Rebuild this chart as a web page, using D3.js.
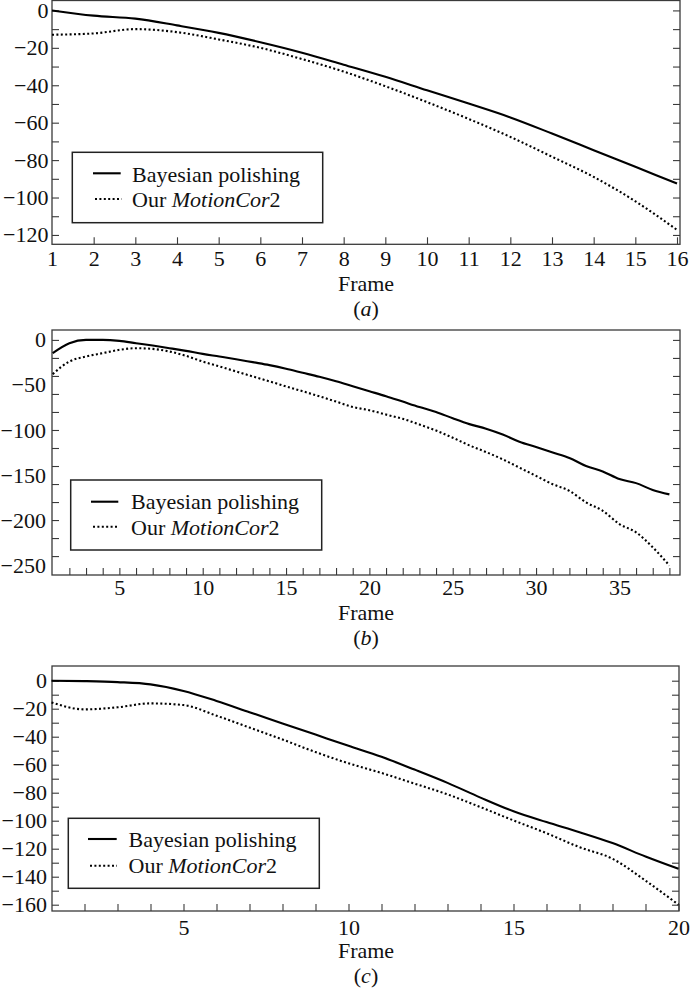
<!DOCTYPE html>
<html><head><meta charset="utf-8">
<script src="https://cdn.jsdelivr.net/npm/d3@7"></script>
<style>
html,body{margin:0;padding:0;background:#fff;}
svg{display:block;font-family:"Liberation Serif","Times New Roman",serif;}
</style></head>
<body>
<svg id="chart" width="691" height="992"></svg>
<script>
// ---------- DATA ----------
const seriesNames = ["Bayesian polishing", "Our MotionCor2"];
const panelLabels = ["a", "b", "c"];
const xAxisTitle = "Frame";

// Panel (a): frames 1..16
const framesA = d3.range(1, 17);
const bayesA  = [0, -2.8, -4.4, -8, -12, -17, -22.6, -29, -35.5, -42.7, -49.8, -57.2, -65.8, -74.7, -83.6, -92.5];
const motionA = [-13, -12.3, -10, -11.6, -15.5, -20, -26, -32.7, -40.5, -49, -58, -67.6, -78.2, -89, -102, -117.3];
const xTickLabelsA = d3.range(1, 17);
const yTickLabelsA = [0, -20, -40, -60, -80, -100, -120];

// Panel (b): frames 1..38
const framesB = d3.range(1, 39);
const bayesB  = [-14.7, -3.7, 0, 0, -1.1, -3.7, -6.3, -9.2, -12.2, -15.5, -18.4, -21.4, -24.7, -28, -32, -36.5, -41, -46,
                 -51.5, -57, -62.5, -68.5, -74.5, -80, -87, -93.5, -98.5, -105, -113, -119, -125, -131, -140, -146, -154.5, -159, -166.5, -171.5];
const motionB = [-38, -24, -18.4, -14.7, -11, -9.2, -10, -12.9, -17.7, -24, -29.5, -35, -40.5, -46, -51.6, -57, -62.6, -68.5,
                 -74.4, -78.1, -82.9, -87.6, -93.9, -100.6, -108.6, -117.1, -124.5, -132.6, -141.8, -151, -160.2, -167.6, -180.4, -189.7, -204.4, -213.6, -230.2, -250.5];
const xTickLabelsB = [5, 10, 15, 20, 25, 30, 35];
const yTickLabelsB = [0, -50, -100, -150, -200, -250];

// Panel (c): frames 1..20
const framesC = d3.range(1, 21);
const bayesC  = [0, -0.3, -1, -2.6, -7.3, -14.5, -22.5, -30.5, -38.5, -46.5, -54.4, -63.5, -73, -83.5, -93.3, -101, -108.2, -116, -125.6, -134.4];
const motionC = [-15.5, -20.5, -19, -16.2, -17.4, -25, -33.5, -42, -51, -59, -65.9, -73.5, -81.2, -90.3, -99.8, -108.9, -118.9, -127.2, -142.8, -160];
const xTickLabelsC = [5, 10, 15, 20];
const yTickLabelsC = [0, -20, -40, -60, -80, -100, -120, -140, -160];

// ---------- LAYOUT ----------
const panels = [
  { frames: framesA, bayes: bayesA, motion: motionA, label: panelLabels[0],
    xDomain: [1, 16], xRange: [52, 677], yDomain: [-125, 5.3],
    box: {l: 52, r: 680, t: 0.5, b: 244.3},
    xTicks: d3.range(2, 17), xLabels: xTickLabelsA, xPad: 5.8,
    yTicks: d3.range(-120, 1, 10), yLabels: yTickLabelsA, yLabelEnd: 48.5,
    titleY: 290.6, tagY: 315.6,
    legend: {l: 72.3, t: 152.3, r: 322.7, b: 222.7, s1: [93, 120.7, 173.3], s2: [95, 121.7, 199], tx: 132, b1: 181.7, b2: 206.7} },
  { frames: framesB, bayes: bayesB, motion: motionB, label: panelLabels[1],
    xDomain: [1, 38], xRange: [52.7, 669.4], yDomain: [-261, 11],
    box: {l: 52, r: 680, t: 330, b: 575},
    xTicks: d3.range(2, 39), xLabels: xTickLabelsB, xPad: 4.6,
    yTicks: d3.range(-240, 1, 20), yLabels: yTickLabelsB, yLabelEnd: 46,
    titleY: 620, tagY: 645,
    legend: {l: 70.7, t: 480, r: 321.7, b: 550, s1: [91, 118.3, 501.7], s2: [93, 119, 526.7], tx: 131, b1: 509.3, b2: 535} },
  { frames: framesC, bayes: bayesC, motion: motionC, label: panelLabels[2],
    xDomain: [1, 20], xRange: [51.5, 678.5], yDomain: [-164.5, 10.5],
    box: {l: 52, r: 679, t: 666, b: 911},
    xTicks: d3.range(2, 21), xLabels: xTickLabelsC, xPad: 8.2,
    yTicks: d3.range(-160, 1, 10), yLabels: yTickLabelsC, yLabelEnd: 47,
    titleY: 957.5, tagY: 982.5,
    legend: {l: 68.3, t: 818.3, r: 319.3, b: 888.3, s1: [88, 116.7, 839], s2: [90, 117, 865.7], tx: 128.5, b1: 846.7, b2: 872.7} }
];

const svg = d3.select("#chart");
const FS = 22;
const frameColor = "#3a3a3a";
const fmt = d3.format("d");

panels.forEach(p => {
  const g = svg.append("g");
  const x = d3.scaleLinear().domain(p.xDomain).range(p.xRange);
  const y = d3.scaleLinear().domain(p.yDomain).range([p.box.b, p.box.t]);

  // bottom ticks (inward)
  const xAx = g.append("g").attr("transform", `translate(0,${p.box.b})`)
    .call(d3.axisBottom(x).tickValues(p.xTicks).tickSize(-7).tickFormat(""));
  xAx.select(".domain").remove();
  xAx.selectAll("line").attr("stroke", frameColor).attr("stroke-width", 1.1);

  const xLab = g.append("g").attr("transform", `translate(0,${p.box.b})`)
    .call(d3.axisBottom(x).tickValues(p.xLabels).tickSize(0).tickPadding(p.xPad).tickFormat(fmt));
  xLab.select(".domain").remove();
  xLab.selectAll("text").attr("font-size", FS).attr("fill", "#111").attr("font-family", "Liberation Serif, serif");

  // left ticks
  const yAx = g.append("g").attr("transform", `translate(${p.box.l},0)`)
    .call(d3.axisLeft(y).tickValues(p.yTicks).tickSize(-7).tickFormat(""));
  yAx.select(".domain").remove();
  yAx.selectAll("line").attr("stroke", frameColor).attr("stroke-width", 1.1);

  // right ticks
  const yAxR = g.append("g").attr("transform", `translate(${p.box.r},0)`)
    .call(d3.axisRight(y).tickValues(p.yTicks).tickSize(-7).tickFormat(""));
  yAxR.select(".domain").remove();
  yAxR.selectAll("line").attr("stroke", frameColor).attr("stroke-width", 1.1);

  // y labels
  const yLab = g.append("g").attr("transform", `translate(${p.yLabelEnd},0)`)
    .call(d3.axisLeft(y).tickValues(p.yLabels).tickSize(0).tickPadding(0).tickFormat(fmt));
  yLab.select(".domain").remove();
  yLab.selectAll("text").attr("font-size", FS).attr("fill", "#111").attr("font-family", "Liberation Serif, serif");

  // frame box
  g.append("rect")
    .attr("x", p.box.l).attr("y", p.box.t)
    .attr("width", p.box.r - p.box.l).attr("height", p.box.b - p.box.t)
    .attr("fill", "none").attr("stroke", frameColor).attr("stroke-width", 1.3);

  // lines
  const line = d3.line().x((d, i) => x(p.frames[i])).y(d => y(d)).curve(d3.curveMonotoneX);
  g.append("path").datum(p.bayes).attr("d", line)
    .attr("fill", "none").attr("stroke", "#000").attr("stroke-width", 2.1);
  g.append("path").datum(p.motion).attr("d", line)
    .attr("fill", "none").attr("stroke", "#000").attr("stroke-width", 2.1)
    .attr("stroke-dasharray", "2,2.4");

  // legend
  const L = p.legend;
  g.append("rect").attr("x", L.l).attr("y", L.t).attr("width", L.r - L.l).attr("height", L.b - L.t)
    .attr("fill", "#fff").attr("stroke", "#222").attr("stroke-width", 1.5);
  g.append("line").attr("x1", L.s1[0]).attr("x2", L.s1[1]).attr("y1", L.s1[2]).attr("y2", L.s1[2])
    .attr("stroke", "#000").attr("stroke-width", 2.1);
  g.append("line").attr("x1", L.s2[0]).attr("x2", L.s2[1]).attr("y1", L.s2[2]).attr("y2", L.s2[2])
    .attr("stroke", "#000").attr("stroke-width", 2.1).attr("stroke-dasharray", "2,2.4");
  g.append("text").attr("x", L.tx).attr("y", L.b1).attr("font-size", FS).attr("fill", "#111")
    .text(seriesNames[0]);
  const t2 = g.append("text").attr("x", L.tx).attr("y", L.b2).attr("font-size", FS).attr("fill", "#111");
  t2.append("tspan").text("Our ");
  t2.append("tspan").attr("font-style", "italic").text("MotionCor");
  t2.append("tspan").text("2");

  // axis title and panel tag
  g.append("text").attr("x", 366).attr("y", p.titleY).attr("text-anchor", "middle")
    .attr("font-size", FS).attr("fill", "#111").text(xAxisTitle);
  const tag = g.append("text").attr("x", 366).attr("y", p.tagY).attr("text-anchor", "middle")
    .attr("font-size", FS).attr("fill", "#111");
  tag.append("tspan").text("(");
  tag.append("tspan").attr("font-style", "italic").text(p.label);
  tag.append("tspan").text(")");
});
</script>
</body></html>
